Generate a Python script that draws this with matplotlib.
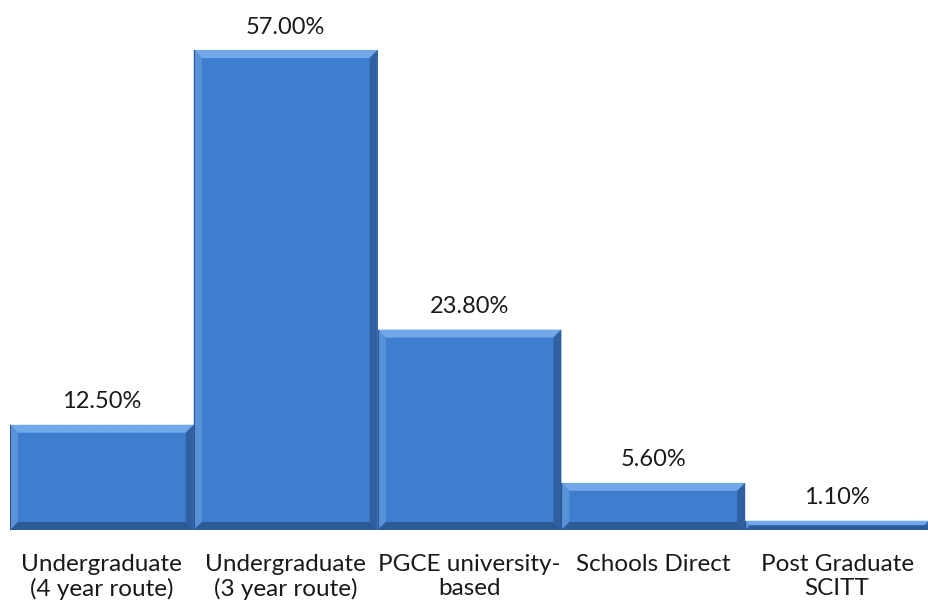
import matplotlib.pyplot as plt
from matplotlib.patches import Polygon

plt.rcParams['font.family'] = ['Lato', 'DejaVu Sans']

categories = ['Undergraduate\n(4 year route)', 'Undergraduate\n(3 year route)',
              'PGCE university-\nbased', 'Schools Direct', 'Post Graduate\nSCITT']
shares = [12.5, 57.0, 23.8, 5.6, 1.1]
value_labels = ['12.50%', '57.00%', '23.80%', '5.60%', '1.10%']

FACE = '#3f7ece'
TOP = '#70a8ea'
LEFT = '#5a92da'
RIGHT = '#30609f'
BOTTOM = '#2d5b98'

fig = plt.figure(figsize=(9.29, 6.10), dpi=100)
ax = fig.add_axes([10 / 929, 80 / 610, 919 / 929, 530 / 610])
ax.set_xlim(-0.5, 4.5)
ax.set_ylim(0, 530 / 8.42)

# bevel size in pixels, converted to data units
px_x = 919 / 5.0
px_y = 8.42
bev = 8

for i, v in enumerate(shares):
    x0, x1 = i - 0.5, i + 0.5
    b = min(bev, v * px_y / 2.0)
    dx, dy = b / px_x, b / px_y
    ax.add_patch(Polygon([(x0, 0), (x1, 0), (x1, v), (x0, v)], closed=True,
                         facecolor=FACE, edgecolor='none'))
    ax.add_patch(Polygon([(x0, v), (x1, v), (x1 - dx, v - dy), (x0 + dx, v - dy)],
                         closed=True, facecolor=TOP, edgecolor='none'))
    ax.add_patch(Polygon([(x0, 0), (x0 + dx, dy), (x0 + dx, v - dy), (x0, v)],
                         closed=True, facecolor=LEFT, edgecolor='none'))
    ax.add_patch(Polygon([(x1, 0), (x1 - dx, dy), (x1 - dx, v - dy), (x1, v)],
                         closed=True, facecolor=RIGHT, edgecolor='none'))
    ax.add_patch(Polygon([(x0, 0), (x1, 0), (x1 - dx, dy), (x0 + dx, dy)],
                         closed=True, facecolor=BOTTOM, edgecolor='none'))
    ax.plot([x0, x0], [0, v], color='#2a5590', lw=0.8)
    ax.annotate(value_labels[i], (i, v), xytext=(0, 9), textcoords='offset points',
                ha='center', va='bottom', fontsize=17, color='#1a1a1a')

ax.axhline(0, color='#b8b8b8', lw=1.5, zorder=0)

ax.set_xticks(range(len(categories)))
ax.set_xticklabels(categories, fontsize=17.5, color='#1a1a1a', linespacing=1.17)
ax.tick_params(axis='x', length=0, pad=17)
ax.set_yticks([])
for s in ax.spines.values():
    s.set_visible(False)

fig.savefig('out.png', dpi=100, facecolor='white')
